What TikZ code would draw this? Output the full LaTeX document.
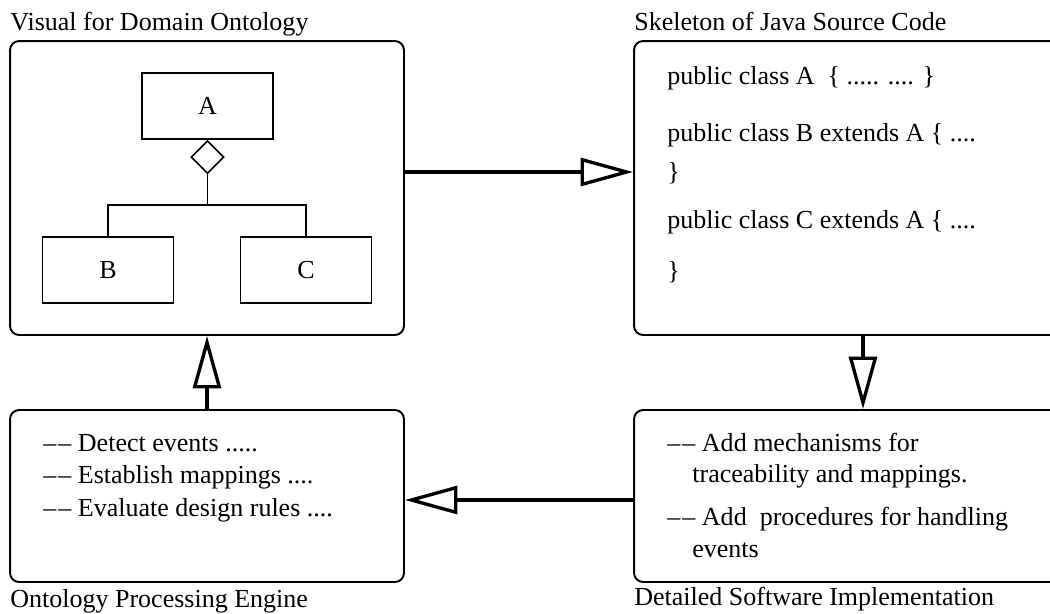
\documentclass[tikz,border=0pt]{standalone}
\usepackage{fontspec}
\setmainfont{Liberation Serif}
\usetikzlibrary{arrows.meta, positioning, shapes.geometric}
\tikzset{
    every node/.style={font=\fontsize{14.8}{18.7}\selectfont},
    panel/.style={ % the four large rounded boxes
        draw,
        line width=1.1pt,
        rounded corners=0.18cm,
        inner sep=0pt
    },
    classbox/.style={draw, line width=0.9pt, minimum width=2.62cm, minimum height=1.32cm, inner sep=0pt},
    aggr/.style={draw, diamond, line width=0.9pt, minimum size=0.66cm, inner sep=0pt},
    flow/.style={line width=1.9pt, -{Triangle[open, length=1.05cm, width=0.56cm]}}, % hollow-headed arrows
    caption/.style={anchor=base west, inner sep=0pt},
    textline/.style={anchor=base west, inner sep=0pt}
}
\newcommand{\dashdash}{\textendash\kern1.2pt\textendash\ }
\begin{document}
\begin{tikzpicture}[x=0.02cm, y=-0.02cm]
    \useasboundingbox (0,0) rectangle (1050,613);
    \clip (0,0) rectangle (1050,613);
    % panels
    \node[panel, minimum width=7.88cm, minimum height=5.88cm] (onto) at (207,188) {};
    \node[panel, minimum width=9.16cm, minimum height=5.88cm] (skel) at (863,188) {};
    \node[panel, minimum width=7.88cm, minimum height=3.44cm] (engine) at (207,496) {};
    \node[panel, minimum width=9.16cm, minimum height=3.44cm] (impl) at (863,496) {};
    % captions
    \node[caption] (ontocap) at (10,30) {Visual for Domain Ontology};
    \node[caption] (skelcap) at (634,30) {Skeleton of Java Source Code};
    \node[caption] (enginecap) at (10,607) {Ontology Processing Engine};
    \node[caption] (implcap) at (634,605) {Detailed Software Implementation};
    % class diagram
    \node[classbox] (A) at (207.5,106) {A};
    \node[aggr, below=0pt of A] (agg) {};
    \node[classbox] (B) at (108,270) {B};
    \node[classbox] (C) at (306,270) {C};
    \coordinate (bus) at (207.5,205);
    \draw[line width=0.9pt] (agg.south) -- (bus);
    \draw[line width=0.9pt] (B.north) |- (bus) -| (C.north);
    % java skeleton
    \node[textline] (code1) at (667,84) {public class A\ \ \{ ..... .... \}};
    \node[textline] (code2) at (667,141) {public class B extends A \{ ....};
    \node[textline] (code3) at (667,180) {\}};
    \node[textline] (code4) at (667,228) {public class C extends A \{ ....};
    \node[textline] (code5) at (667,279) {\}};
    % engine tasks
    \node[textline] (task1) at (43,451) {\dashdash Detect events .....};
    \node[textline] (task2) at (43,483) {\dashdash Establish mappings ....};
    \node[textline] (task3) at (43,516) {\dashdash Evaluate design rules ....};
    % implementation notes
    \node[textline] (todo1) at (667,451) {\dashdash Add mechanisms for};
    \node[textline] (todo2) at (692,482) {traceability and mappings.};
    \node[textline] (todo3) at (667,525) {\dashdash Add\ \ procedures for handling};
    \node[textline] (todo4) at (692,557) {events};
    % flow between panels
    \draw[flow] ([yshift=0.32cm]onto.east) -- ([yshift=0.32cm]skel.west);
    \draw[flow] (skel.south) -- (impl.north);
    \draw[flow] ([yshift=-0.08cm]impl.west) -- ([yshift=-0.08cm]engine.east);
    \draw[flow] (engine.north) -- (onto.south);
\end{tikzpicture}
\end{document}
